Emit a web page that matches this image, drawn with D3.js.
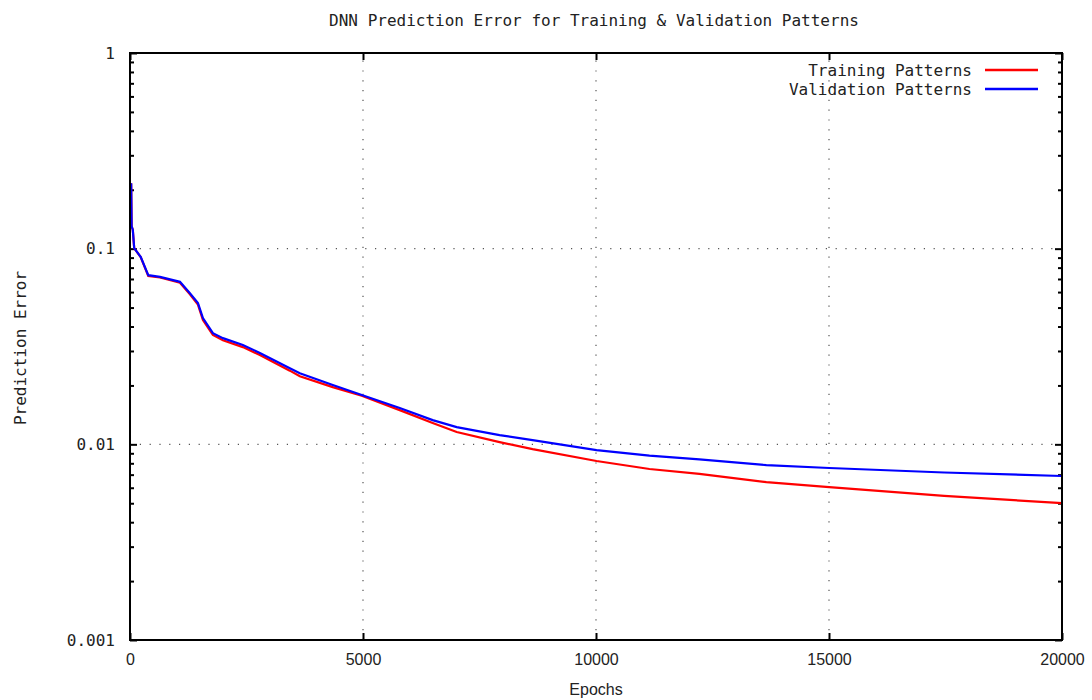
<!DOCTYPE html>
<html>
<head>
<meta charset="utf-8">
<script src="https://cdn.jsdelivr.net/npm/d3@7"></script>
<style>
  html, body { margin: 0; padding: 0; background: #fff; }
  svg { display: block; }
</style>
</head>
<body>
<svg id="chart" width="1092" height="700"></svg>
<script>
// ---- data ----
const epochs = [25, 35, 60, 90, 229, 392, 643, 1072, 1286, 1458, 1565, 1779, 1994, 2422, 2787, 3430, 3644, 4351, 4973, 5788, 6495, 7010, 7931, 8639, 10011, 11147, 12219, 13655, 15005, 17470, 20000];
const validation = [0.216, 0.13, 0.125, 0.1007, 0.0908, 0.0732, 0.0718, 0.0677, 0.0592, 0.0527, 0.0442, 0.0370, 0.0349, 0.0322, 0.0293, 0.0245, 0.0231, 0.0201, 0.01786, 0.01532, 0.01330, 0.01225, 0.01115, 0.01051, 0.00935, 0.00875, 0.00838, 0.00783, 0.00757, 0.00718, 0.00689];
const training = [0.216, 0.13, 0.125, 0.1007, 0.0905, 0.0725, 0.0712, 0.0670, 0.0585, 0.0518, 0.0432, 0.0362, 0.0340, 0.0314, 0.0286, 0.0238, 0.0223, 0.0196, 0.0177, 0.01496, 0.01285, 0.01156, 0.01027, 0.00946, 0.00822, 0.00748, 0.00706, 0.00641, 0.00605, 0.00545, 0.00501];
const xTicks = [0, 5000, 10000, 15000, 20000];
const yTicks = [0.001, 0.01, 0.1, 1];
const yTickLabels = ["0.001", "0.01", "0.1", "1"];
const seriesNames = ["Training Patterns", "Validation Patterns"];
const seriesColors = ["#ff0000", "#0000ff"];
const title = "DNN Prediction Error for Training & Validation Patterns";
const xLabel = "Epochs";
const yLabel = "Prediction Error";

// ---- layout ----
const L = 130, R = 1062, T = 53, B = 640;
const svg = d3.select("#chart");
const x = d3.scaleLinear().domain([0, 20000]).range([L, R]);
const y = d3.scaleLog().domain([0.001, 1]).range([B, T]);
const mono = "'DejaVu Sans Mono', monospace";
const sans = "'Liberation Sans', Arial, sans-serif";

// grid
const grid = svg.append("g").attr("stroke", "#555").attr("stroke-width", 1.2)
  .attr("stroke-dasharray", "1.2,8.6");
xTicks.filter(d => d > 0 && d < 20000).forEach(d => {
  grid.append("line").attr("x1", x(d)).attr("x2", x(d)).attr("y1", B).attr("y2", T);
});
yTicks.filter(d => d > 0.001 && d < 1).forEach(d => {
  grid.append("line").attr("x1", L).attr("x2", R).attr("y1", y(d)).attr("y2", y(d));
});

// axes (ticks inward)
const minor = [];
for (let e = -3; e < 0; e++) for (let m = 2; m <= 9; m++) minor.push(m * Math.pow(10, e));

function styleAxis(g) {
  g.select(".domain").remove();
  g.selectAll("line").attr("stroke", "#000").attr("stroke-width", 2);
}
// bottom
const xb = svg.append("g").attr("transform", `translate(0,${B})`)
  .call(d3.axisBottom(x).tickValues(xTicks).tickSize(-7).tickPadding(14).tickFormat(d3.format("d")));
styleAxis(xb);
xb.selectAll("text").attr("font-family", sans).attr("font-size", 16).attr("fill", "#222");
// top
const xt = svg.append("g").attr("transform", `translate(0,${T})`)
  .call(d3.axisTop(x).tickValues(xTicks).tickSize(-7).tickFormat(""));
styleAxis(xt);
// left major
const yl = svg.append("g").attr("transform", `translate(${L},0)`)
  .call(d3.axisLeft(y).tickValues(yTicks).tickSize(-7).tickPadding(15).tickFormat((d, i) => yTickLabels[i]));
styleAxis(yl);
yl.selectAll("text").attr("font-family", mono).attr("font-size", 16).attr("fill", "#222");
// left minor
const ylm = svg.append("g").attr("transform", `translate(${L},0)`)
  .call(d3.axisLeft(y).tickValues(minor).tickSize(-4).tickFormat(""));
styleAxis(ylm);
// right major & minor
const yr = svg.append("g").attr("transform", `translate(${R},0)`)
  .call(d3.axisRight(y).tickValues(yTicks).tickSize(-7).tickFormat(""));
styleAxis(yr);
const yrm = svg.append("g").attr("transform", `translate(${R},0)`)
  .call(d3.axisRight(y).tickValues(minor).tickSize(-4).tickFormat(""));
styleAxis(yrm);

// lines
const lineLin = d3.line().x((d, i) => x(epochs[i])).y(d => y(d));
svg.append("path").datum(training).attr("d", lineLin)
  .attr("fill", "none").attr("stroke", seriesColors[0]).attr("stroke-width", 2.2);
svg.append("path").datum(validation).attr("d", lineLin)
  .attr("fill", "none").attr("stroke", seriesColors[1]).attr("stroke-width", 2.2);

// frame
svg.append("rect").attr("x", L).attr("y", T).attr("width", R - L).attr("height", B - T)
  .attr("fill", "none").attr("stroke", "#000").attr("stroke-width", 2);

// legend
seriesNames.forEach((n, i) => {
  const ly = 70 + i * 19;
  svg.append("text").attr("x", 972).attr("y", ly).attr("dy", "0.35em")
    .attr("text-anchor", "end").attr("font-family", mono).attr("font-size", 16)
    .attr("fill", "#222").text(n);
  svg.append("line").attr("x1", 985).attr("x2", 1038).attr("y1", ly).attr("y2", ly)
    .attr("stroke", seriesColors[i]).attr("stroke-width", 2.4);
});

// title & axis labels
svg.append("text").attr("x", 594).attr("y", 20).attr("dy", "0.35em").attr("text-anchor", "middle")
  .attr("font-family", mono).attr("font-size", 16).attr("fill", "#222").text(title);
svg.append("text").attr("x", 596).attr("y", 689).attr("dy", "0.35em").attr("text-anchor", "middle")
  .attr("font-family", sans).attr("font-size", 16).attr("fill", "#222").text(xLabel);
svg.append("text").attr("transform", "translate(20,348) rotate(-90)").attr("dy", "0.35em")
  .attr("text-anchor", "middle").attr("font-family", mono).attr("font-size", 16)
  .attr("fill", "#222").text(yLabel);
</script>
</body>
</html>
